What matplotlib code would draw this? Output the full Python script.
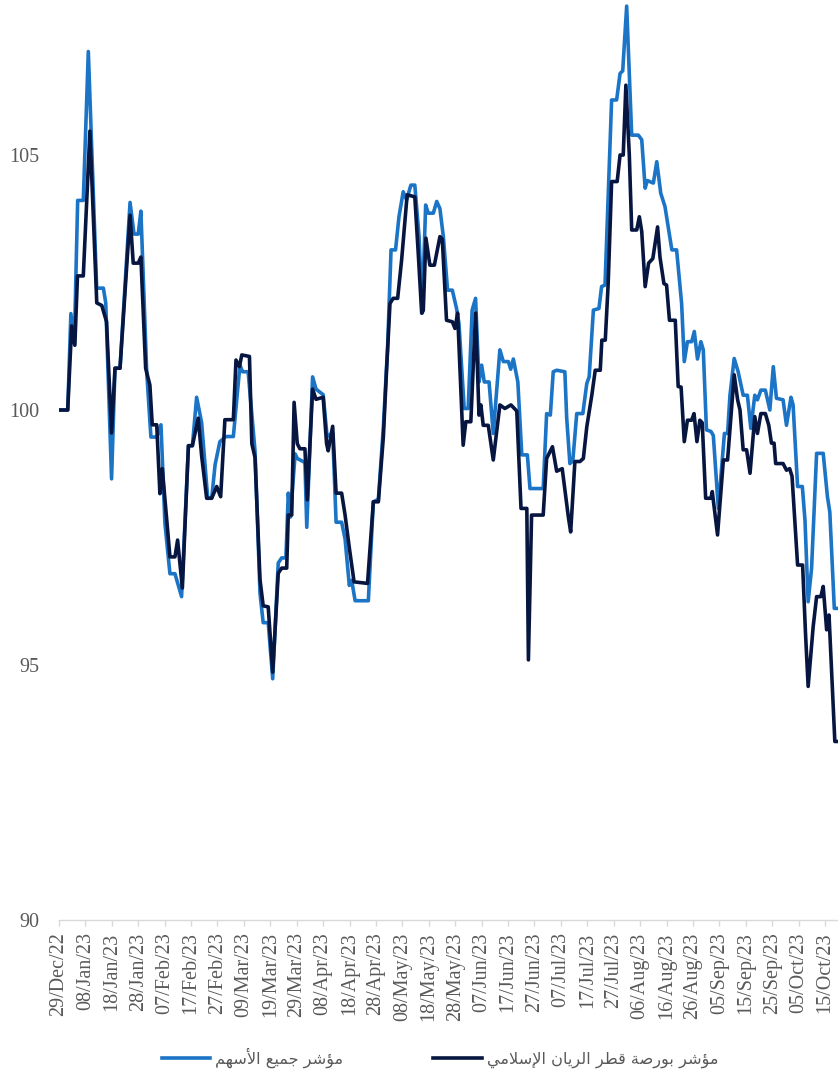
import numpy as np
import pandas as pd
import matplotlib
matplotlib.use("Agg")
import matplotlib.pyplot as plt
import matplotlib.dates as mdates

# Fechas: dias desde 29/Dec/22
start = pd.Timestamp("2022-12-29")

rayan_days = [0, 3.3, 4.8, 6, 7, 9.2, 11.7, 14.3, 16.2, 18, 19.9, 21.2, 23.1, 26.9, 28.1, 30, 31,
              32.8, 34.4, 35.3, 37, 38.2, 39.1, 42, 43.9, 44.9, 46.7, 49, 50.5, 52.7, 54, 55.9,
              57.8, 59.7, 61.2, 62.8, 66, 67, 68.3, 69.2, 72.1, 73, 74.2, 76.1, 77.3, 79.2, 80.9,
              83, 84.3, 86.2, 86.8, 88.1, 89, 90.2, 91.2, 93.1, 94, 96, 97.3, 100, 101.3, 101.9,
              103.6, 104.9, 107, 108.3, 109.9, 111.7, 116.8, 119, 120.9, 122.8, 124, 125.3, 126.5,
              128.2, 129.7, 131.8, 134.7, 136, 137.3, 137.9, 138.9, 140.4, 142.1, 144.2, 145.1,
              146.7, 148.9, 149.9, 150.9, 153, 154, 155.9, 157.7, 159, 159.7, 160.6, 162.5, 164.4,
              166.9, 168.8, 171.1, 173.3, 174.9, 177.1, 177.7, 178.9, 183.3, 184.6, 186.8, 188.4,
              190.5, 192.8, 193.7, 195.3, 197.2, 198.5, 199.8, 201.7, 203, 204.9, 205.5, 206.8,
              207.9, 209.2, 211.3, 212.4, 213.6, 214.6, 215.9, 216.8, 218.7, 219.7, 220.6, 221.9,
              223.2, 224.8, 226.6, 227.5, 229, 230, 231.1, 233.3, 234.4, 235.5, 236.7, 237.9,
              239.5, 240.4, 241.5, 242.6, 243.5, 244.8, 246.8, 247.3, 249.3, 251.5, 253.1, 255.6,
              256.9, 257.8, 259, 260.3, 261.6, 263.4, 264.4, 265.7, 267.4, 268.7, 269.7, 270.7,
              271.3, 274.1, 275.4, 276.6, 277.5, 279.6, 281.5, 282.6, 283.6, 285.5, 286.8, 288.4,
              289.3, 290.6, 291.5, 293.7, 294.8]
rayan_vals = [100.0, 100.0, 101.65, 101.27, 102.63, 102.63, 105.47, 102.1, 102.05, 101.73, 99.55,
              100.82, 100.82, 103.82, 102.88, 102.88, 103.0, 100.82, 100.49, 99.71, 99.71, 98.36,
              98.85, 97.12, 97.12, 97.45, 96.51, 99.3, 99.3, 99.84, 99.1, 98.27, 98.27, 98.5, 98.3,
              99.81, 99.81, 100.98, 100.85, 101.08, 101.05, 99.34, 99.07, 96.67, 96.16, 96.14,
              94.86, 96.8, 96.9, 96.9, 97.94, 97.94, 100.15, 99.34, 99.24, 99.24, 98.24, 100.41,
              100.21, 100.25, 99.34, 99.2, 99.68, 98.37, 98.37, 97.94, 97.3, 96.63, 96.6, 98.2,
              98.2, 99.48, 100.78, 102.09, 102.19, 102.19, 102.94, 104.22, 104.18, 103.07, 101.9,
              101.95, 103.37, 102.84, 102.84, 103.4, 103.35, 101.76, 101.73, 101.6, 101.9, 99.31,
              99.77, 99.77, 101.9, 99.9, 100.1, 99.7, 99.7, 99.02, 100.1, 100.03, 100.1, 99.98,
              98.07, 98.07, 95.1, 97.94, 97.94, 99.05, 99.28, 98.8, 98.85, 97.91, 97.61, 98.99,
              98.99, 99.05, 99.67, 100.29, 100.78, 100.78, 101.37, 101.37, 102.48, 104.48, 104.48,
              105.0, 105.0, 106.37, 105.0, 103.53, 103.53, 103.79, 103.5, 102.42, 102.88, 102.97,
              103.59, 103.0, 102.48, 102.45, 101.76, 101.76, 100.46, 100.45, 99.38, 99.8, 99.8,
              99.93, 99.38, 99.8, 99.75, 98.27, 98.27, 98.4, 97.55, 99.02, 99.02, 100.69, 100.2,
              100.0, 99.22, 99.22, 98.76, 99.87, 99.54, 99.93, 99.93, 99.7, 99.35, 99.35, 98.95,
              98.95, 98.82, 98.85, 98.7, 96.96, 96.96, 95.62, 94.58, 95.75, 96.34, 96.34, 96.54,
              95.69, 95.98, 93.5, 93.5]

allshare_days = [0, 3.3, 4.5, 5.8, 7.07, 9.2, 11.1, 14.26, 16.8, 17.7, 19.9, 21.2, 23.1, 26.9,
                 28.4, 30, 31, 33.2, 34.8, 37, 38.6, 40.1, 42, 43.9, 46.4, 49, 50.5, 52.1, 54,
                 56.3, 57.8, 59.1, 60.9, 63.2, 66, 68.5, 69.5, 71.6, 74.2, 76.1, 77.3, 79.2, 80.9,
                 83, 84.3, 85.9, 86.8, 87.6, 89.4, 90.2, 93.1, 93.8, 96, 97.3, 100, 101.5, 103.6,
                 104.9, 107, 108.3, 109.9, 110.8, 112.1, 117.1, 119, 120.9, 122.8, 124.4, 125.7,
                 127.4, 128.7, 130.3, 131.6, 133.2, 134.7, 136.3, 137.5, 138.8, 139.8, 141.7, 143,
                 144.2, 145.5, 147.1, 148.9, 150.5, 151.4, 153.4, 154.9, 156.4, 157.7, 159, 160,
                 161, 162.8, 164.4, 166.9, 168.2, 170.1, 171, 172, 173.7, 175.2, 177.3, 178.3,
                 183.3, 184.6, 186, 187.1, 188.4, 191.5, 192.2, 193.4, 194.5, 196, 198.3, 199.8,
                 200.7, 202.3, 204.4, 205.4, 206.7, 209.2, 211.1, 212.4, 213.4, 214.9, 216.8,
                 219.3, 220.6, 221.9, 222.7, 225, 226.3, 227.8, 229.4, 232, 233.8, 235.7, 236.7,
                 237.9, 239.5, 240.5, 241.7, 243, 243.9, 245.1, 246.8, 247.7, 249.6, 251.9, 253.1,
                 254, 255.6, 257.1, 259, 260.6, 261.9, 263.4, 264.4, 265.7, 267.4, 269.1, 270.4,
                 271.6, 274.1, 275.4, 277.1, 277.9, 279.6, 281.4, 282.4, 283.6, 284.9, 286.8,
                 289.3, 290.9, 291.8, 293.5, 294.8]
allshare_vals = [100.0, 100.0, 101.89, 101.3, 104.11, 104.11, 107.03, 102.39, 102.39, 102.1,
                 98.65, 100.82, 100.82, 104.07, 103.45, 103.45, 103.9, 100.75, 99.47, 99.47,
                 99.71, 97.78, 96.79, 96.79, 96.34, 99.3, 99.3, 100.25, 99.75, 98.27, 98.27,
                 98.93, 99.38, 99.48, 99.48, 100.88, 100.75, 100.75, 99.2, 96.4, 95.83, 95.83,
                 94.73, 97.0, 97.1, 97.1, 98.37, 97.9, 99.14, 99.05, 98.97, 97.7, 100.65, 100.41,
                 100.3, 99.48, 99.55, 97.8, 97.8, 97.47, 96.56, 96.66, 96.26, 96.26, 98.2, 98.25,
                 99.67, 101.24, 103.14, 103.14, 103.79, 104.28, 104.12, 104.41, 104.41, 103.4,
                 101.9, 104.02, 103.86, 103.86, 104.09, 103.95, 103.4, 102.35, 102.35, 101.99,
                 101.7, 100.03, 100.03, 101.96, 102.19, 100.55, 100.88, 100.55, 100.55, 99.54,
                 101.18, 100.95, 100.95, 100.8, 101.0, 100.55, 99.12, 99.12, 98.46, 98.46, 99.93,
                 99.9, 100.75, 100.78, 100.75, 99.84, 98.95, 99.0, 99.93, 99.93, 100.52, 100.65,
                 101.96, 101.99, 102.42, 102.45, 106.08, 106.08, 106.6, 106.65, 107.92, 105.39,
                 105.39, 105.3, 104.35, 104.5, 104.45, 104.87, 104.25, 103.99, 103.14, 103.14,
                 102.09, 100.95, 101.34, 101.34, 101.54, 101.0, 101.34, 101.18, 99.61, 99.58,
                 99.5, 98.07, 99.54, 99.54, 100.29, 101.01, 100.75, 100.29, 100.29, 99.64, 100.29,
                 100.2, 100.39, 100.39, 100.0, 100.85, 100.23, 100.2, 99.7, 100.25, 100.1, 98.5,
                 98.5, 97.84, 96.24, 96.9, 99.15, 99.15, 98.3, 98.0, 96.11, 96.11]

label_allshare = "مؤشر جميع الأسهم"
label_rayan = "مؤشر بورصة قطر الريان الإسلامي"

y_ticks = [90, 95, 100, 105]

# Formas de presentacion arabes (matplotlib no une las letras)
FORMS = {
    "ا": ("\uFE8D", "\uFE8E", None, None),
    "أ": ("\uFE83", "\uFE84", None, None),
    "إ": ("\uFE87", "\uFE88", None, None),
    "ؤ": ("\uFE85", "\uFE86", None, None),
    "ب": ("\uFE8F", "\uFE90", "\uFE91", "\uFE92"),
    "ة": ("\uFE93", "\uFE94", None, None),
    "ج": ("\uFE9D", "\uFE9E", "\uFE9F", "\uFEA0"),
    "ر": ("\uFEAD", "\uFEAE", None, None),
    "س": ("\uFEB1", "\uFEB2", "\uFEB3", "\uFEB4"),
    "ش": ("\uFEB5", "\uFEB6", "\uFEB7", "\uFEB8"),
    "ص": ("\uFEB9", "\uFEBA", "\uFEBB", "\uFEBC"),
    "ط": ("\uFEC1", "\uFEC2", "\uFEC3", "\uFEC4"),
    "ع": ("\uFEC9", "\uFECA", "\uFECB", "\uFECC"),
    "ق": ("\uFED5", "\uFED6", "\uFED7", "\uFED8"),
    "ل": ("\uFEDD", "\uFEDE", "\uFEDF", "\uFEE0"),
    "م": ("\uFEE1", "\uFEE2", "\uFEE3", "\uFEE4"),
    "ن": ("\uFEE5", "\uFEE6", "\uFEE7", "\uFEE8"),
    "ه": ("\uFEE9", "\uFEEA", "\uFEEB", "\uFEEC"),
    "و": ("\uFEED", "\uFEEE", None, None),
    "ي": ("\uFEF1", "\uFEF2", "\uFEF3", "\uFEF4"),
}
LAM_ALEF = {"ا": ("\uFEFB", "\uFEFC"), "أ": ("\uFEF7", "\uFEF8"), "إ": ("\uFEF9", "\uFEFA")}


def shape(text):
    units = []
    i = 0
    while i < len(text):
        if text[i] == "ل" and i + 1 < len(text) and text[i + 1] in LAM_ALEF:
            units.append(("LA", text[i + 1]))
            i += 2
        else:
            units.append((text[i], None))
            i += 1
    out = []
    for k, (c, alef) in enumerate(units):
        prev = units[k - 1][0] if k > 0 else None
        nxt = units[k + 1][0] if k + 1 < len(units) else None
        prev_joins = prev in FORMS and FORMS[prev][2] is not None
        if c == "LA":
            out.append(LAM_ALEF[alef][1 if prev_joins else 0])
            continue
        if c not in FORMS:
            out.append(c)
            continue
        f = FORMS[c]
        next_joins = f[2] is not None and (nxt in FORMS or nxt == "LA")
        if prev_joins and next_joins:
            out.append(f[3])
        elif prev_joins:
            out.append(f[1])
        elif next_joins:
            out.append(f[2])
        else:
            out.append(f[0])
    return "".join(reversed(out))


x_rayan = start + pd.to_timedelta(rayan_days, unit="D")
x_all = start + pd.to_timedelta(allshare_days, unit="D")

grey = "#595959"
fig = plt.figure(figsize=(8.38, 10.78), dpi=100)
ax = fig.add_axes([0.0704, 0.1466, 0.9296, 0.8515])

ax.plot(x_all, allshare_vals, color="#1B74C6", lw=2.6, label=shape(label_allshare),
        solid_joinstyle="round")
ax.plot(x_rayan, rayan_vals, color="#071640", lw=2.6, label=shape(label_rayan),
        solid_joinstyle="round")

ax.set_ylim(90, 108)
ax.set_xlim(start, start + pd.Timedelta(days=294.9))
ax.set_yticks(y_ticks)

ticks = [start + pd.Timedelta(days=10 * k) for k in range(30)]
ax.set_xticks(ticks)
ax.xaxis.set_major_formatter(mdates.DateFormatter("%d/%b/%y"))

for s in ["top", "right", "left"]:
    ax.spines[s].set_visible(False)
ax.spines["bottom"].set_color("#D9D9D9")
ax.spines["bottom"].set_linewidth(1.0)

ax.tick_params(axis="y", length=0, pad=14, labelsize=14.5, labelcolor=grey)
ax.tick_params(axis="x", length=4, width=1, color="#D9D9D9", pad=5, labelsize=14.5,
               labelcolor=grey, labelrotation=90)
for lab in ax.get_xticklabels() + ax.get_yticklabels():
    lab.set_fontfamily("Liberation Serif")

leg = fig.legend(loc="center", bbox_to_anchor=(0.525, 0.019), ncol=2, frameon=False,
                 handlelength=3.0, columnspacing=5.6, handletextpad=0.3,
                 prop={"family": "DejaVu Sans", "size": 11.6})
for t in leg.get_texts():
    t.set_color(grey)

fig.savefig("out.png", dpi=100)
